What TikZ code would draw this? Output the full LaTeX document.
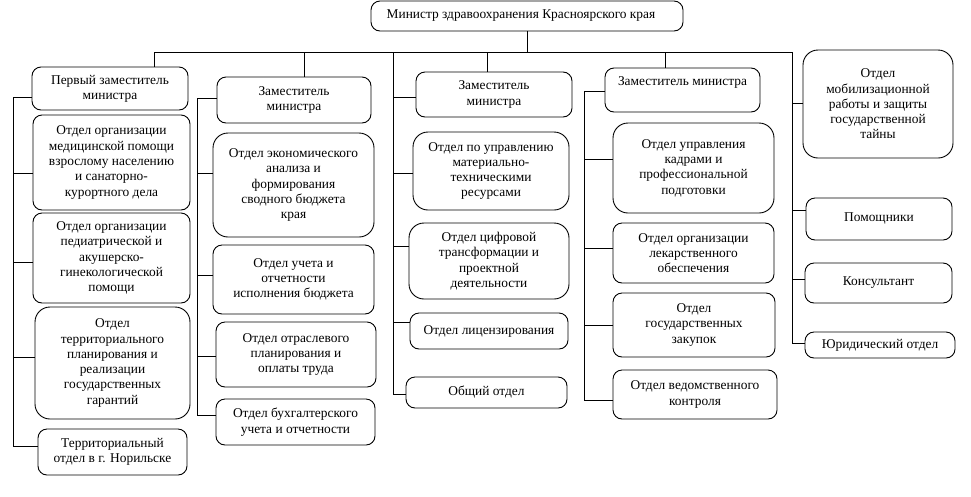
\documentclass[tikz,border=0pt]{standalone}
\usepackage{fontspec}
\setmainfont{Liberation Serif}
\usepackage{tikz}
\usetikzlibrary{calc}

\begin{document}
\begin{tikzpicture}[
  x=1pt, y=-1pt,
  every node/.style={font=\fontsize{13.4}{15.3}\selectfont},
  box/.style = {draw, line width=0.9pt, rounded corners=9pt, align=center, inner sep=1pt},
  bigbox/.style = {box, rounded corners=15pt},
  link/.style = {line width=0.8pt}
  ]
	\useasboundingbox (0,0) rectangle (971,496);

	\node[box,minimum width=312pt,minimum height=30pt] (top) at (527,16) {Министр здравоохранения Красноярского края\hspace{12pt}};

	% first column
	\node[box,minimum width=156pt,minimum height=43pt] (b10) at (110,88.5) {Первый заместитель\\министра};
	\node[box,minimum width=157pt,minimum height=95pt] (b11) at (111.5,162.5) {Отдел организации\\медицинской помощи\\взрослому населению\\и санаторно-\\курортного дела};
	\node[box,minimum width=157pt,minimum height=90pt] (b12) at (111.5,258) {Отдел организации\\педиатрической и\\акушерско-\\гинекологической\\помощи};
	\node[bigbox,minimum width=155pt,minimum height=112pt] (b13) at (112.5,363) {Отдел\\территориального\\планирования и\\реализации\\государственных\\гарантий};
	\node[box,minimum width=149pt,minimum height=46pt] (b14) at (112.5,452) {Территориальный\\отдел в г. Норильске};

	% second column
	\node[box,minimum width=154pt,minimum height=46pt] (b20) at (294,100) {Заместитель\\министра};
	\node[bigbox,minimum width=161pt,minimum height=104pt] (b21) at (293.5,185) {Отдел экономического\\анализа и\\формирования\\сводного бюджета\\края};
	\node[box,minimum width=161pt,minimum height=69pt] (b22) at (293.5,279.5) {Отдел учета и\\отчетности\\исполнения бюджета};
	\node[box,minimum width=160pt,minimum height=65pt] (b23) at (296,354.5) {Отдел отраслевого\\планирования и\\оплаты труда};
	\node[box,minimum width=159pt,minimum height=46pt] (b24) at (295.5,422) {Отдел бухгалтерского\\учета и отчетности};

	% third column
	\node[box,minimum width=156pt,minimum height=45pt] (b30) at (494,94.5) {Заместитель\\министра};
	\node[bigbox,minimum width=156pt,minimum height=78pt] (b31) at (491,171) {Отдел по управлению\\материально-\\техническими\\ресурсами};
	\node[bigbox,minimum width=160pt,minimum height=76pt] (b32) at (489,261) {Отдел цифровой\\трансформации и\\проектной\\деятельности};
	\node[box,minimum width=158pt,minimum height=36pt] (b33) at (489,331) {Отдел лицензирования};
	\node[box,minimum width=161pt,minimum height=31pt] (b34) at (486.5,392.5) {Общий отдел};

	% fourth column
	\node[box,minimum width=155pt,minimum height=44pt,text depth=17pt] (b40) at (682.5,90) {Заместитель министра};
	\node[bigbox,minimum width=161pt,minimum height=90pt] (b41) at (693.5,168) {Отдел управления\\кадрами и\\профессиональной\\подготовки};
	\node[box,minimum width=161pt,minimum height=60pt] (b42) at (693.5,253) {Отдел организации\\лекарственного\\обеспечения};
	\node[box,minimum width=162pt,minimum height=64pt] (b43) at (694,325) {Отдел\\государственных\\закупок};
	\node[box,minimum width=164pt,minimum height=49pt] (b44) at (695,394.5) {Отдел ведомственного\\контроля};

	% fifth column
	\node[bigbox,minimum width=150pt,minimum height=108pt] (b50) at (878,104) {Отдел\\мобилизационной\\работы и защиты\\государственной\\тайны};
	\node[box,minimum width=146pt,minimum height=42pt] (b51) at (879,219) {Помощники};
	\node[box,minimum width=147pt,minimum height=40pt] (b52) at (878.5,283) {Консультант};
	\node[box,minimum width=150pt,minimum height=26pt] (b53) at (880,345) {Юридический отдел};

	% bus and drops
	\coordinate (busL) at (154,52);
	\coordinate (busR) at (792,52);
	\draw[link] (busL) -- (busR);
	\draw[link] (top.south) -- (top.south |- busL);
	\draw[link] (busL) -- (busL |- b10.north);
	\draw[link] (304,52) -- (304,52 |- b20.north);
	\draw[link] (487,52) -- (487,52 |- b30.north);
	\draw[link] (665,52) -- (665,52 |- b40.north);

	% spines
	\coordinate (s1) at (13,97);
	\coordinate (s2) at (197,98);
	\coordinate (s3) at (393,52);
	\coordinate (s4) at (584,91);
	\coordinate (s5) at (792,52);
	\draw[link] (s1) -- (s1 |- 0,446);
	\draw[link] (s2) -- (s2 |- 0,415);
	\draw[link] (s3) -- (s3 |- 0,394);
	\draw[link] (s4) -- (s4 |- 0,400);
	\draw[link] (s5) -- (s5 |- 0,343);

	\foreach \b/\h in {b10/97,b11/173,b12/262,b13/357,b14/446}
		\draw[link] (s1 |- 0,\h) -- (\b.west |- 0,\h);
	\foreach \b/\h in {b20/98,b21/173,b22/275,b23/356,b24/415}
		\draw[link] (s2 |- 0,\h) -- (\b.west |- 0,\h);
	\foreach \b/\h in {b30/97,b31/173,b32/246,b33/322,b34/394}
		\draw[link] (s3 |- 0,\h) -- (\b.west |- 0,\h);
	\foreach \b/\h in {b40/91,b41/159,b42/248,b43/325,b44/400}
		\draw[link] (s4 |- 0,\h) -- (\b.west |- 0,\h);
	\foreach \b/\h in {b50/103,b51/210,b52/279,b53/343}
		\draw[link] (s5 |- 0,\h) -- (\b.west |- 0,\h);

\end{tikzpicture}
\end{document}
